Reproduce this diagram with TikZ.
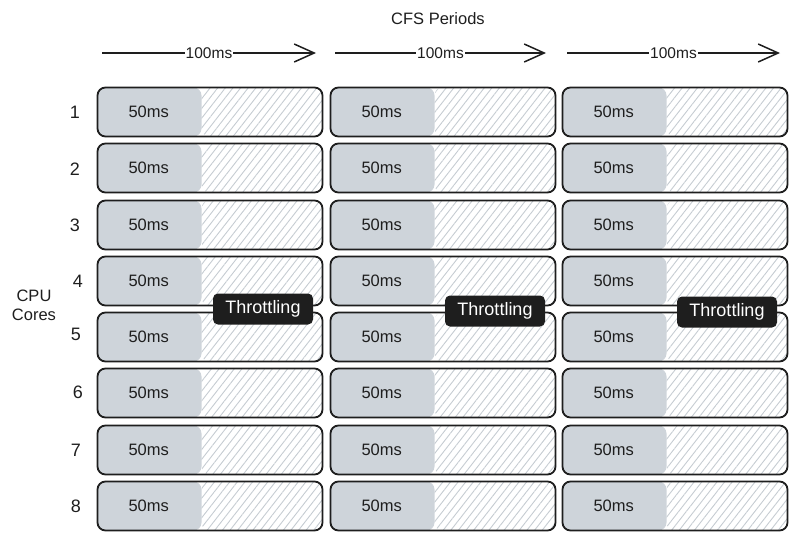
\documentclass[tikz,border=0pt]{standalone}
\usepackage{fontspec}
\setmainfont{Liberation Sans}
\usetikzlibrary{arrows.meta,patterns.meta}
\definecolor{ink}{HTML}{1E1E1E}
\definecolor{busy}{HTML}{CED4DA}
\definecolor{hatch}{HTML}{C6CCD2}
\tikzset{
 core/.style={draw=ink, line width=1.8pt, rounded corners=8pt, minimum width=225pt, minimum height=49pt,
  inner xsep=31pt, text width=163pt, align=left, text=ink, font=\fontsize{16.5}{19}\selectfont,
  path picture={
   \fill[busy] (path picture bounding box.north west) rectangle ([xshift=104pt]path picture bounding box.south west);
   \fill[pattern={Lines[angle=52,distance=6pt,line width=0.9pt]}, pattern color=hatch]
    ([xshift=104pt]path picture bounding box.north west) rectangle (path picture bounding box.south east);}},
 rownum/.style={text=ink, font=\fontsize{18}{20}\selectfont},
 throttle/.style={fill=ink, text=white, rounded corners=5pt, minimum width=100pt, minimum height=31pt,
  font=\fontsize{18}{20}\selectfont},
 period/.style={draw=ink, line width=1.5pt, -{Straight Barb[length=20pt,width=18pt,line width=1.5pt]}},
 periodlabel/.style={fill=white, inner sep=1pt, text=ink, font=\fontsize{15.5}{18}\selectfont}
}
\begin{document}
\begin{tikzpicture}[x=1pt,y=-1pt]
 \useasboundingbox (0,0) rectangle (798,542);
 \node[text=ink, font=\fontsize{16.5}{19}\selectfont] (title) at (438,19) {CFS Periods};
 \node[text=ink, font=\fontsize{16.5}{19}\selectfont, align=center] (cores) at (34,305) {CPU\\Cores};
 \coordinate (p1s) at (102,53); \coordinate (p1e) at (316,53);
 \coordinate (p2s) at (335,53); \coordinate (p2e) at (546,53);
 \coordinate (p3s) at (567,53); \coordinate (p3e) at (780,53);
 \draw[period] (p1s) -- node[periodlabel] (l1) {100ms} (p1e);
 \draw[period] (p2s) -- node[periodlabel] (l2) {100ms} (p2e);
 \draw[period] (p3s) -- node[periodlabel] (l3) {100ms} (p3e);
 \node[rownum] (n1) at (75,112) {1};
 \node[rownum] (n2) at (75,169) {2};
 \node[rownum] (n3) at (75,225) {3};
 \node[rownum] (n4) at (78,281) {4};
 \node[rownum] (n5) at (76,334) {5};
 \node[rownum] (n6) at (78,392) {6};
 \node[rownum] (n7) at (76,450) {7};
 \node[rownum] (n8) at (76,506) {8};
 \node[core] (c1r1) at (210,112) {50ms};
 \node[core] (c1r2) at (210,168) {50ms};
 \node[core] (c1r3) at (210,225) {50ms};
 \node[core] (c1r4) at (210,281) {50ms};
 \node[core] (c1r5) at (210,337) {50ms};
 \node[core] (c1r6) at (210,393) {50ms};
 \node[core] (c1r7) at (210,450) {50ms};
 \node[core] (c1r8) at (210,506) {50ms};
 \node[core] (c2r1) at (443,112) {50ms};
 \node[core] (c2r2) at (443,168) {50ms};
 \node[core] (c2r3) at (443,225) {50ms};
 \node[core] (c2r4) at (443,281) {50ms};
 \node[core] (c2r5) at (443,337) {50ms};
 \node[core] (c2r6) at (443,393) {50ms};
 \node[core] (c2r7) at (443,450) {50ms};
 \node[core] (c2r8) at (443,506) {50ms};
 \node[core] (c3r1) at (675,112) {50ms};
 \node[core] (c3r2) at (675,168) {50ms};
 \node[core] (c3r3) at (675,225) {50ms};
 \node[core] (c3r4) at (675,281) {50ms};
 \node[core] (c3r5) at (675,337) {50ms};
 \node[core] (c3r6) at (675,393) {50ms};
 \node[core] (c3r7) at (675,450) {50ms};
 \node[core] (c3r8) at (675,506) {50ms};
 \node[throttle] (t1) at (263,309) {Throttling};
 \node[throttle] (t2) at (495,311) {Throttling};
 \node[throttle] (t3) at (727,312) {Throttling};
\end{tikzpicture}
\end{document}
